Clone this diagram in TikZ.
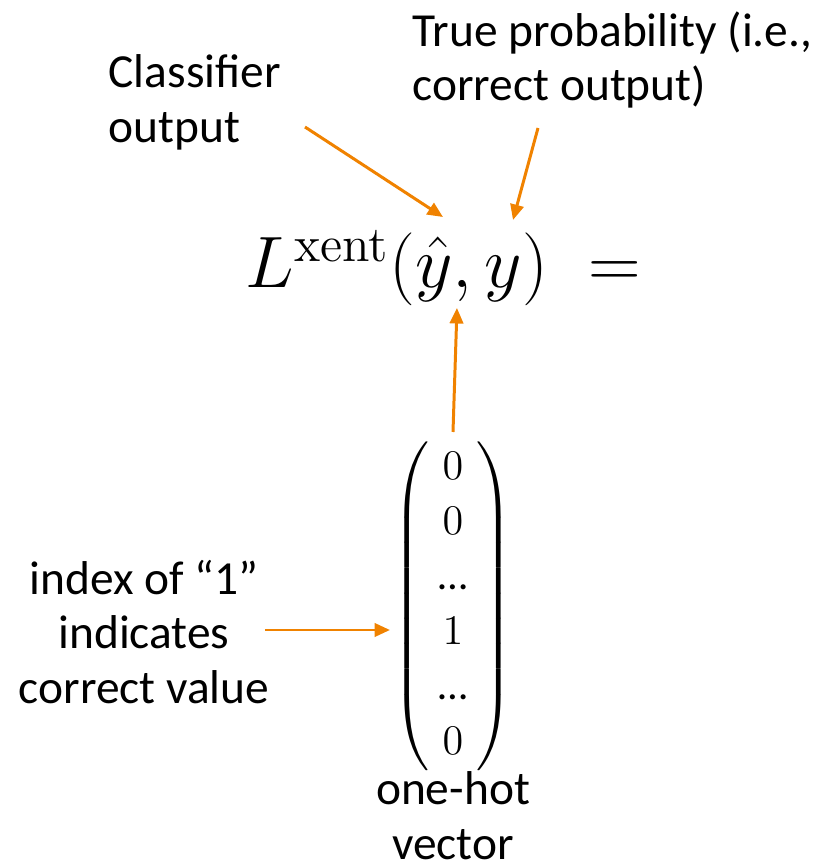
\documentclass[tikz,border=0pt]{standalone}
\usepackage[no-math]{fontspec}
\setmainfont{Carlito}
\usepackage{amsmath}
\usetikzlibrary{arrows.meta}
\definecolor{arroworange}{RGB}{240,130,0}
\begin{document}
\begin{tikzpicture}[every node/.style={inner sep=0pt,font=\fontsize{13.5}{15.6}\selectfont},
  pointer/.style={draw=arroworange,line width=0.85pt,-{Triangle[length=4.4pt,width=3.8pt]}}]
\useasboundingbox (0,0) rectangle (8.18,8.68);
\node[anchor=west,align=left] (clf) at (1.08,7.66) {Classifier\\output};
\node[anchor=west,align=left] (true) at (4.12,8.08) {True probability (i.e.,\\correct output)};
\node[anchor=base west,font=\fontsize{21}{25}\selectfont] (loss) at (2.45,5.80) {$L^{\mathrm{xent}}(\hat{y},y)\;=$};
\node[font=\fontsize{12}{15.7}\selectfont] (onehot) at (4.53,2.62)
  {\setlength{\arraycolsep}{2.5pt}$\left(\begin{array}{c}0\\0\\\text{…}\\1\\\text{…}\\0\end{array}\right)$};
\node[align=center] (idx) at (1.44,2.36) {index of ``1''\\indicates\\correct value};
\node[align=center] (vec) at (4.53,0.52) {one-hot\\vector};
\coordinate (clfout) at (3.05,7.41);
\coordinate (yhat) at (4.43,6.51);
\coordinate (trueout) at (5.38,7.40);
\coordinate (y) at (5.13,6.48);
\coordinate (vectop) at (4.53,4.36);
\coordinate (yhatlow) at (4.57,5.60);
\coordinate (idxout) at (2.65,2.38);
\coordinate (one) at (3.90,2.38);
\draw[pointer] (clfout)--(yhat);
\draw[pointer] (trueout)--(y);
\draw[pointer] (vectop)--(yhatlow);
\draw[pointer] (idxout)--(one);
\end{tikzpicture}
\end{document}
